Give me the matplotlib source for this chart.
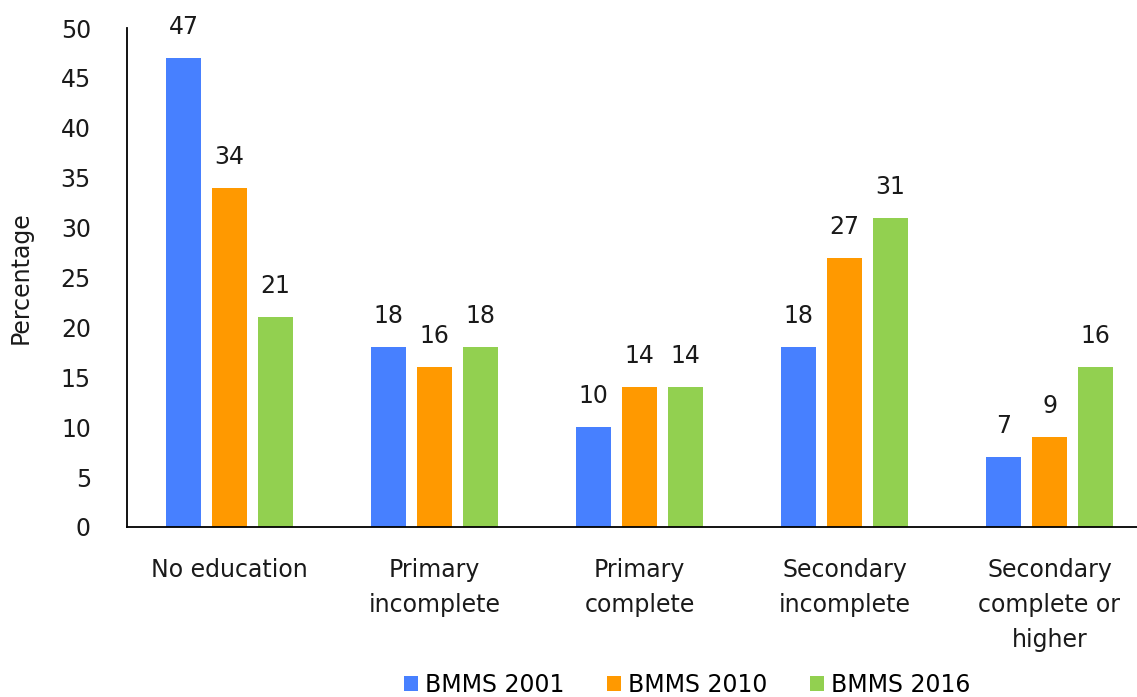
import matplotlib.pyplot as plt
import numpy as np

categories = ["No education", "Primary\nincomplete", "Primary\ncomplete",
              "Secondary\nincomplete", "Secondary\ncomplete or\nhigher"]
series_labels = ["BMMS 2001", "BMMS 2010", "BMMS 2016"]
bmms_2001 = [47, 18, 10, 18, 7]
bmms_2010 = [34, 16, 14, 27, 9]
bmms_2016 = [21, 18, 14, 31, 16]
colors = ["#4780FF", "#FF9900", "#92D050"]

plt.rcParams["font.family"] = ["DejaVu Sans"]

W, H = 1137, 697
fig = plt.figure(figsize=(W / 100, H / 100), dpi=100)
ax = fig.add_axes([127 / W, 1 - 527 / H, 1025 / W, (527 - 28) / H])

x = np.arange(len(categories))
width = 0.171
step = 0.224
for i, (vals, lab) in enumerate(zip([bmms_2001, bmms_2010, bmms_2016], series_labels)):
    bars = ax.bar(x + (i - 1) * step, vals, width, color=colors[i], label=lab)
    for b, v in zip(bars, vals):
        ax.text(b.get_x() + b.get_width() / 2, v + 1.9, str(v),
                ha="center", va="bottom", fontsize=17, color="#1a1a1a")

ax.set_xlim(-0.5, len(categories) - 0.5)
ax.set_ylim(0, 50)
ax.set_yticks(range(0, 51, 5))
ax.set_xticks(x)
ax.set_xticklabels(categories, fontsize=17, linespacing=1.6)
ax.tick_params(axis="both", length=0, labelsize=17, colors="#1a1a1a")
ax.tick_params(axis="x", pad=22)
ax.tick_params(axis="y", pad=26)
for s in ["top", "right"]:
    ax.spines[s].set_visible(False)
for s in ["left", "bottom"]:
    ax.spines[s].set_linewidth(1.3)
    ax.spines[s].set_color("black")
ax.set_ylabel("Percentage", fontsize=17, color="#1a1a1a")
ax.yaxis.set_label_coords(-0.092, 0.5)

fig.legend(loc="center", bbox_to_anchor=(687 / W, 1 - 685 / H), ncol=3,
           frameon=False, fontsize=17, handlelength=0.6, handleheight=0.6,
           handletextpad=0.3, columnspacing=1.8)

fig.savefig("out.png", dpi=100)
